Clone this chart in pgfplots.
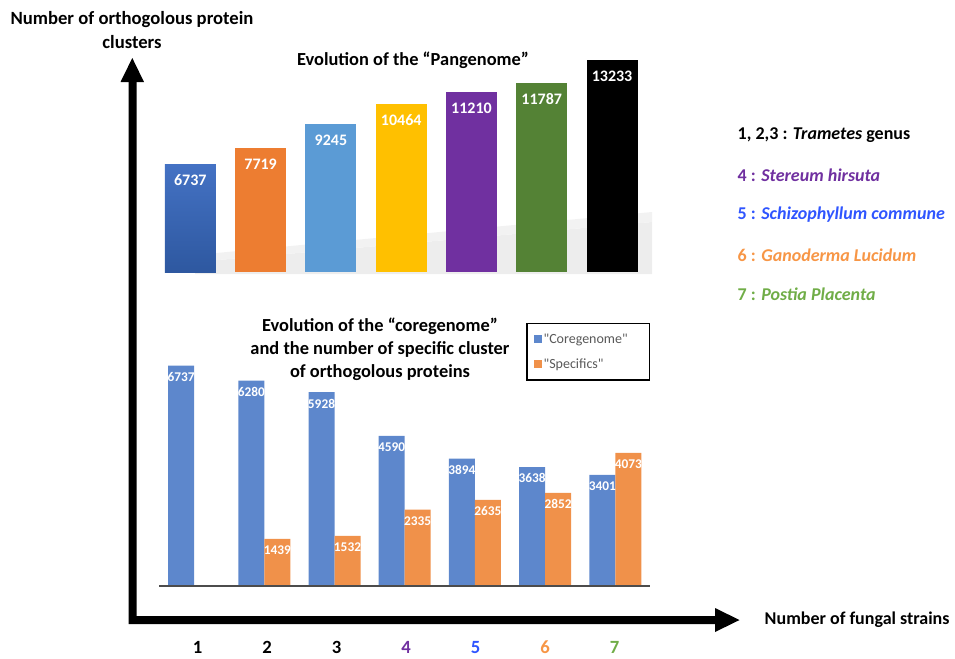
\documentclass[border=0pt]{standalone}
\usepackage{pgfplots}
\pgfplotsset{compat=1.18}
\usepackage{fontspec}
\setmainfont{Carlito}[Ligatures=TeXOff]
\definecolor{barA}{RGB}{68,114,196}
\definecolor{barAdark}{RGB}{46,88,160}
\definecolor{barB}{RGB}{237,125,49}
\definecolor{barC}{RGB}{91,155,213}
\definecolor{barD}{RGB}{255,192,0}
\definecolor{barE}{RGB}{112,48,160}
\definecolor{barF}{RGB}{84,130,53}
\definecolor{coreblue}{RGB}{93,135,204}
\definecolor{specorange}{RGB}{240,145,74}
\definecolor{txtpurple}{RGB}{112,48,160}
\definecolor{txtblue}{RGB}{47,85,255}
\definecolor{txtorange}{RGB}{247,150,70}
\definecolor{txtgreen}{RGB}{112,173,71}
\definecolor{legtxt}{RGB}{89,89,89}
\begin{document}
\begin{tikzpicture}
\path[use as bounding box] (0,0) rectangle (716.25pt,-493.5pt);
% soft shadow behind the top bars
\begin{scope}[x=0.75pt,y=-0.75pt]
\fill[black!7] (195,274) -- (195,262) -- (652,222) -- (652,274) -- cycle;
\fill[black!5] (195,262) -- (652,222) -- (652,212) -- (195,255) -- cycle;
\end{scope}
% ---------- top chart: Pangenome ----------
\begin{axis}[
  at={(116.4pt,-204pt)}, anchor=south west,
  scale only axis, width=369pt, height=162.75pt,
  xmin=0.5, xmax=7.5, ymin=0, ymax=13546,
  hide axis, clip=false,
  bar width=38.25pt,
  point meta=explicit symbolic,
  nodes near coords,
  nodes near coords style={font=\bfseries\fontsize{12}{12}\selectfont, text=white, anchor=center, yshift=-12pt},
  every axis plot/.append style={ybar, bar shift=0pt, draw=none},
]
\addplot[top color=barA, bottom color=barAdark] coordinates {(1,6737)[6737]};
\addplot[fill=barB] coordinates {(2,7719)[7719]};
\addplot[fill=barC] coordinates {(3,9245)[9245]};
\addplot[fill=barD] coordinates {(4,10464)[10464]};
\addplot[fill=barE] coordinates {(5,11210)[11210]};
\addplot[fill=barF] coordinates {(6,11787)[11787]};
\addplot[fill=black] coordinates {(7,13233)[13233]};
\end{axis}
% ---------- bottom chart: coregenome / specifics ----------
\begin{axis}[
  at={(119.25pt,-439.5pt)}, anchor=south west,
  scale only axis, width=368.55pt, height=199.5pt,
  xmin=0.5, xmax=7.5, ymin=0, ymax=8135,
  hide axis, clip=false,
  ybar=0pt, bar width=19.5pt,
  point meta=explicit symbolic,
  nodes near coords,
  nodes near coords style={font=\bfseries\fontsize{10}{10}\selectfont, text=white, anchor=center, yshift=-8.5pt},
  legend style={at={(1,0.989)}, anchor=north east, draw=black, line width=1.1pt,
    font=\fontsize{10.5}{10.5}\selectfont, text=legtxt, row sep=7pt,
    inner xsep=5pt, inner ysep=6pt,
    nodes={inner sep=1.5pt, text width=73pt, align=left}},
  legend cell align=left,
  legend image code/.code={\fill[#1] (0pt,-3pt) rectangle (6pt,3pt);},
]
\addplot[fill=coreblue, draw=none] coordinates {(1,6737)[6737] (2,6280)[6280] (3,5928)[5928] (4,4590)[4590] (5,3894)[3894] (6,3638)[3638] (7,3401)[3401]};
\addplot[fill=specorange, draw=none] coordinates {(2,1439)[1439] (3,1532)[1532] (4,2335)[2335] (5,2635)[2635] (6,2852)[2852] (7,4073)[4073]};
\legend{"Coregenome","Specifics"}
\end{axis}
% ---------- decorations, in pixel units ----------
\begin{scope}[x=0.75pt,y=-0.75pt]
\draw[black!70, line width=0.9pt] (159,586) -- (650,586);
% arrows
\fill[black] (128.5,82) -- (136.5,82) -- (136.5,616) -- (715,616) -- (715,624) -- (128.5,624) -- cycle;
\fill[black] (120.5,82) -- (144,82) -- (132.3,58) -- cycle;
\fill[black] (715,608) -- (739.5,620) -- (715,632) -- cycle;
% texts
\node[font=\bfseries\fontsize{14}{18}\selectfont, align=center] at (132,30) {Number of orthogolous protein\\clusters};
\node[font=\bfseries\fontsize{13.8}{13.8}\selectfont] at (413,60) {Evolution of the “Pangenome”};
\node[font=\bfseries\fontsize{13.8}{17.25}\selectfont, align=center] at (380,349) {Evolution of the “coregenome”\\and the number of specific cluster\\of orthogolous proteins};
\node[font=\bfseries\fontsize{13.5}{13.5}\selectfont, anchor=west] at (760,620) {Number of fungal strains};
\begin{scope}[every node/.style={font=\bfseries\fontsize{13.5}{13.5}\selectfont, anchor=west}]
\node at (733,135) {1, 2,3 : \textit{Trametes} genus};
\node[text=txtpurple] at (733,175) {4 : \textit{Stereum hirsuta}};
\node[text=txtblue] at (733,215) {5 : \textit{Schizophyllum commune}};
\node[text=txtorange] at (733,255) {6 : \textit{Ganoderma Lucidum}};
\node[text=txtgreen] at (733,294) {7 : \textit{Postia Placenta}};
\end{scope}
\begin{scope}[every node/.style={font=\bfseries\fontsize{14}{14}\selectfont}]
\node at (197.7,647) {1};
\node at (267.2,647) {2};
\node at (336.7,647) {3};
\node[text=txtpurple] at (406.2,647) {4};
\node[text=txtblue] at (475.7,647) {5};
\node[text=txtorange] at (545.2,647) {6};
\node[text=txtgreen] at (614.7,647) {7};
\end{scope}
\end{scope}
\end{tikzpicture}
\end{document}
